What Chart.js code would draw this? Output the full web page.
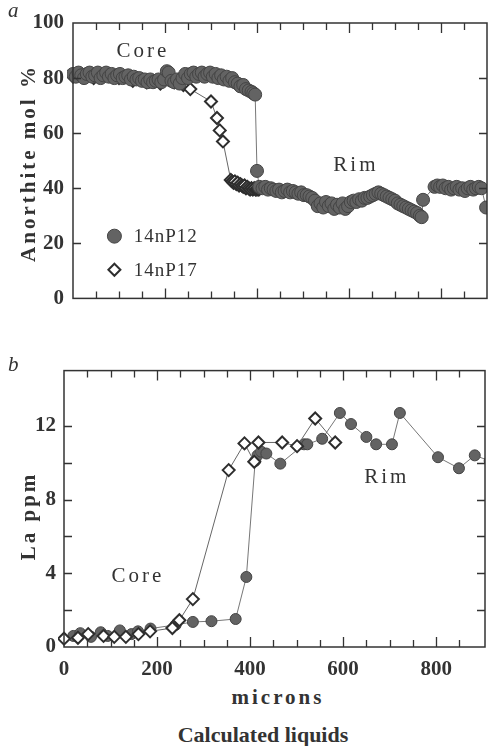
<!DOCTYPE html>
<html>
<head>
<meta charset="utf-8">
<script src="https://cdn.jsdelivr.net/npm/chart.js@4.4.1/dist/chart.umd.min.js"></script>
<style>
  body { margin: 0; background: #fff; width: 495px; height: 746px; position: relative; overflow: hidden;
         font-family: "Liberation Serif", "Times New Roman", serif; color: #333; }
  canvas { position: absolute; left: 0; }
  .lbl { position: absolute; white-space: nowrap; transform: translate(-50%, -50%); }
  .ytitle { position: absolute; white-space: nowrap; font-weight: bold; font-size: 21px; letter-spacing: 3px;
            transform: translate(-50%, -50%) rotate(-90deg); }
  .panel { position: absolute; font-style: italic; font-size: 21px; }
</style>
</head>
<body>
<canvas id="chartA" width="495" height="320" style="top:0"></canvas>
<canvas id="chartB" width="495" height="330" style="top:350px"></canvas>

<div class="panel" style="left:8px; top:-2px">a</div>
<div class="panel" style="left:8px; top:352px">b</div>
<div class="ytitle" style="left:28px; top:163px">Anorthite mol %</div>
<div class="ytitle" style="left:28px; top:516px">La ppm</div>
<div class="lbl" style="left:278px; top:697px; font-weight:bold; font-size:21px; letter-spacing:3px">microns</div>
<div class="lbl" style="left:263px; top:735px; font-weight:bold; font-size:22px">Calculated liquids</div>

<script>
// ---- panel a: anorthite (mol %) vs distance (microns) ----
const anP12Microns = [0, 6, 12, 18, 24, 30, 36, 42, 48, 54, 60, 66, 72, 78, 84, 90, 96, 102, 108, 114,
  120, 126, 132, 138, 144, 150, 156, 162, 168, 174, 180, 186, 192, 198, 204, 208, 214, 220, 226, 232,
  238, 244, 250, 256, 262, 268, 274, 280, 286, 292, 298, 304, 310, 316, 322, 328, 334, 340, 346, 352,
  358, 364, 370, 376, 382, 388, 392, 396, 400,
  405, 412, 418, 424, 430, 436, 442, 448, 454, 460, 466, 472, 478, 484, 490, 496, 502, 508, 514, 520,
  526, 532, 538, 544, 550, 556, 562, 568, 574, 580, 586, 592, 598, 604, 610, 616, 622, 628, 634, 640,
  646, 652, 658, 664, 670, 676, 682, 688, 694, 700, 706, 712, 718, 724, 730, 736, 742, 748, 754, 758,
  761, 786, 792, 798, 804, 810, 816, 822, 828, 834, 840, 846, 852, 858, 864, 870, 876, 882, 888, 898];
const anP12 = [81.5, 80.5, 82, 81, 80, 81.5, 82, 80.5, 81, 82, 80, 81, 82, 80.5, 81.5, 80, 81, 81.5, 80, 80.5,
  81, 79.5, 80.5, 79.5, 80, 79, 79.5, 78.5, 79.5, 78.5, 79, 79.5, 78.5, 79.5, 82.5, 82, 79, 78.5, 79.5, 78,
  80, 81.5, 80, 81.5, 82, 80.5, 81.5, 82, 80.5, 81.5, 82, 80.5, 81.5, 80, 81, 79.5, 80.5, 79, 80, 78.5,
  78, 77, 77.5, 76, 75.5, 75, 74.5, 74, 46.3,
  40.5, 40, 40.5, 39.5, 40, 39.5, 39, 39.5, 38.5, 39, 39.5, 38.5, 39, 38.5, 38, 38.5, 37.5, 37.5, 37, 36.5,
  35.5, 33.5, 34.5, 33, 35, 33.5, 34.5, 32.5, 34, 33, 34.5, 32.5, 33.5, 35, 35.5, 35, 36, 35.5, 36.5, 36.5,
  37, 37.5, 38, 38.5, 38, 37.5, 37, 36.5, 36, 35.5, 34.5, 34, 33.5, 33, 32.5, 32, 31.5, 31, 30, 29.5,
  35.8, 40.5, 41, 40.5, 41, 40, 40.5, 39.5, 40, 40.5, 39.5, 40, 39, 40, 40.5, 39.5, 40, 40.5, 40, 33];
const anP17Microns = [0, 20, 45, 70, 100, 130, 160, 190, 220, 240, 255, 300, 313, 319, 326, 343,
  346, 349, 352, 355, 358, 361, 364, 367, 370, 373, 376, 379, 382, 385, 388, 391, 394, 397, 400, 404];
const anP17 = [80.5, 81, 80, 81, 80, 79, 78.5, 78, 78.5, 77.5, 76, 71.5, 65.5, 61, 57, 43,
  42.5, 42, 42.5, 41.5, 42, 41, 41.5, 41, 40.5, 41, 40, 40.5, 40, 39.5, 40, 39.5, 40, 39.5, 39.5, 39.5];

// ---- panel b: La (ppm) vs distance (microns) ----
const laP12Microns = [20, 35, 58, 79, 94, 120, 145, 159, 186, 240, 277, 317, 369, 392, 411, 416, 424, 435,
  465, 516, 523, 555, 593, 617, 650, 671, 705, 722, 804, 849, 883, 915];
const laP12 = [0.6, 0.75, 0.55, 0.8, 0.6, 0.9, 0.7, 0.85, 1.0, 1.2, 1.36, 1.4, 1.52, 3.8, 10.1, 10.4, 10.6, 10.5,
  9.95, 11.0, 11.0, 11.3, 12.7, 12.1, 11.4, 11.0, 11.0, 12.7, 10.3, 9.7, 10.4, 10.1];
const laP17Microns = [0, 30, 52, 85, 108, 133, 160, 185, 233, 248, 277, 354, 388, 409, 418, 469, 501, 540, 583];
const laP17 = [0.45, 0.5, 0.7, 0.6, 0.55, 0.55, 0.7, 0.85, 1.03, 1.45, 2.6, 9.6, 11.05, 10.05, 11.1, 11.1, 10.9, 12.4, 11.1];

const seriesNames = ['14nP12', '14nP17'];

const ink = '#333';
const dotFill = '#636363';
const dotEdge = '#444';

function pts(xs, ys) {
  return xs.map((x, i) => ({ x: x, y: ys[i] }));
}

// frame, inward ticks, notes and legend
const framePlugin = {
  id: 'frame',
  afterDraw(chart, args, opts) {
    const { ctx, chartArea: { left, right, top, bottom }, scales: { x, y } } = chart;
    ctx.save();
    ctx.strokeStyle = ink;
    ctx.lineWidth = 1.5;
    ctx.strokeRect(left, top, right - left, bottom - top);
    ctx.lineWidth = 1.3;
    ctx.beginPath();
    x.ticks.forEach(t => {
      if (t.value <= x.min || t.value >= x.max) return;
      const px = Math.round(x.getPixelForValue(t.value)) + 0.5;
      const len = t.value % opts.xMajor === 0 ? 10 : 7;
      ctx.moveTo(px, bottom); ctx.lineTo(px, bottom - len);
      ctx.moveTo(px, top); ctx.lineTo(px, top + len);
    });
    y.ticks.forEach(t => {
      if (t.value <= y.min || t.value >= y.max) return;
      const py = Math.round(y.getPixelForValue(t.value)) + 0.5;
      ctx.moveTo(left, py); ctx.lineTo(left + 8, py);
      ctx.moveTo(right, py); ctx.lineTo(right - 8, py);
    });
    ctx.stroke();

    ctx.fillStyle = ink;
    ctx.textBaseline = 'middle';
    ctx.textAlign = 'center';
    ctx.font = '21px "Liberation Serif", "Times New Roman", serif';
    ctx.letterSpacing = '3px';
    opts.notes.forEach(n => {
      ctx.fillText(n.text, x.getPixelForValue(n.x), y.getPixelForValue(n.y));
    });

    if (opts.legend) {
      const lg = opts.legend;
      ctx.font = '19px "Liberation Serif", "Times New Roman", serif';
      ctx.letterSpacing = '1px';
      ctx.textAlign = 'left';
      seriesNames.forEach((name, i) => {
        const mx = x.getPixelForValue(lg.x);
        const my = y.getPixelForValue(lg.y[i]);
        ctx.beginPath();
        if (i === 0) {
          ctx.arc(mx, my, 7, 0, Math.PI * 2);
          ctx.fillStyle = dotFill; ctx.fill();
          ctx.strokeStyle = dotEdge; ctx.lineWidth = 1; ctx.stroke();
        } else {
          ctx.moveTo(mx, my - 6); ctx.lineTo(mx + 6, my); ctx.lineTo(mx, my + 6); ctx.lineTo(mx - 6, my); ctx.closePath();
          ctx.fillStyle = '#fff'; ctx.fill();
          ctx.strokeStyle = '#2e2e2e'; ctx.lineWidth = 2; ctx.stroke();
        }
        ctx.fillStyle = ink;
        ctx.fillText(name, x.getPixelForValue(lg.textX), my + 1);
      });
    }
    ctx.restore();
  }
};

function p12Style(r) {
  return {
    showLine: true, borderColor: '#777', borderWidth: 1,
    pointStyle: 'circle', pointRadius: r, pointHoverRadius: r,
    pointBackgroundColor: dotFill, pointBorderColor: dotEdge, pointBorderWidth: 1,
    clip: { left: 6, top: 6, right: 0, bottom: 6 }
  };
}
function p17Style() {
  return {
    showLine: true, borderColor: '#666', borderWidth: 1,
    pointStyle: 'rectRot', pointRadius: 6, pointHoverRadius: 6,
    pointBackgroundColor: '#fff', pointBorderColor: '#2e2e2e', pointBorderWidth: 2,
    clip: { left: 6, top: 6, right: 0, bottom: 6 }
  };
}

const tickFont = { family: '"Liberation Serif", "Times New Roman", serif', size: 21, weight: 'bold' };
Chart.defaults.color = ink;
Chart.defaults.animation = false;

// panel a
new Chart(document.getElementById('chartA'), {
  type: 'scatter',
  data: {
    datasets: [
      Object.assign({ label: seriesNames[0], data: pts(anP12Microns, anP12) }, p12Style(6.5)),
      Object.assign({ label: seriesNames[1], data: pts(anP17Microns, anP17) }, p17Style())
    ]
  },
  options: {
    responsive: false,
    layout: { padding: { left: 0, right: 1, top: 23, bottom: 18 } },
    scales: {
      x: {
        type: 'linear', min: 0, max: 900,
        ticks: { stepSize: 50, display: false },
        grid: { display: false, drawTicks: false }, border: { display: false },
        afterFit: s => { s.height = 0; }
      },
      y: {
        min: 0, max: 100,
        ticks: { stepSize: 10, padding: 9, font: tickFont, callback: v => v % 20 === 0 ? v : '' },
        grid: { display: false, drawTicks: false }, border: { display: false },
        afterFit: s => { s.width = 73; }
      }
    },
    plugins: {
      legend: { display: false },
      tooltip: { enabled: false },
      frame: {
        xMajor: 200,
        notes: [{ text: 'Core', x: 152, y: 89.6 }, { text: 'Rim', x: 615, y: 48.4 }],
        legend: { x: 90, textX: 132, y: [22.6, 10.4] }
      }
    }
  },
  plugins: [framePlugin]
});

// panel b
new Chart(document.getElementById('chartB'), {
  type: 'scatter',
  data: {
    datasets: [
      Object.assign({ label: seriesNames[1], data: pts(laP17Microns, laP17) }, p17Style()),
      Object.assign({ label: seriesNames[0], data: pts(laP12Microns, laP12) }, p12Style(5.5))
    ]
  },
  options: {
    responsive: false,
    layout: { padding: { left: 0, right: 8, top: 20, bottom: 0 } },
    scales: {
      x: {
        type: 'linear', min: 0, max: 905,
        ticks: { stepSize: 50, padding: 10, maxRotation: 0, autoSkip: false, font: tickFont,
                 callback: v => v % 200 === 0 ? v : '' },
        grid: { display: false, drawTicks: false }, border: { display: false },
        afterFit: s => { s.height = 33; }
      },
      y: {
        min: 0, max: 15,
        ticks: { stepSize: 2, padding: 8, font: tickFont, callback: v => v % 4 === 0 ? v : '' },
        grid: { display: false, drawTicks: false }, border: { display: false },
        afterFit: s => { s.width = 64; }
      }
    },
    plugins: {
      legend: { display: false },
      tooltip: { enabled: false },
      frame: {
        xMajor: 200,
        notes: [{ text: 'Core', x: 159, y: 3.8 }, { text: 'Rim', x: 694, y: 9.2 }]
      }
    }
  },
  plugins: [framePlugin]
});
</script>
</body>
</html>
